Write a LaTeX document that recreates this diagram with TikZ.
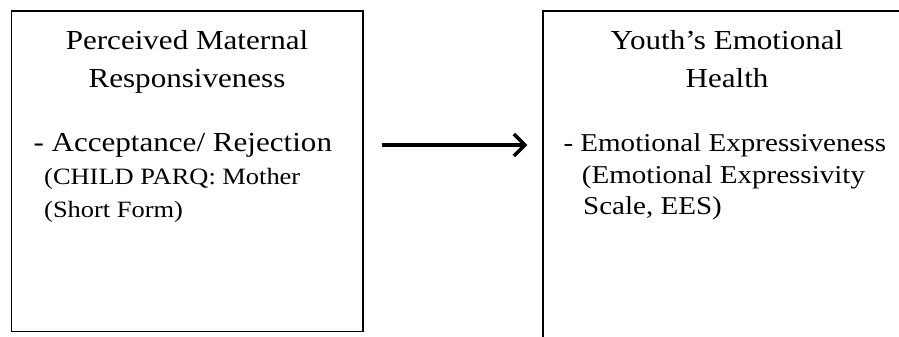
\documentclass[tikz,border=0pt]{standalone}
\usepackage{fontspec}
\setmainfont{Liberation Serif}[FakeStretch=1.13]
\usetikzlibrary{arrows.meta,calc}
\begin{document}
\begin{tikzpicture}[x=1pt,y=-1pt,
  box/.style={draw=black,line width=1.2pt,rectangle,inner sep=0pt},
  head/.style={inner sep=0pt,anchor=base,font=\fontsize{27.5}{33}\selectfont},
  item/.style={inner sep=0pt,anchor=base west,font=\fontsize{27.5}{33}\selectfont},
  note/.style={inner sep=0pt,anchor=base west,font=\fontsize{23.4}{28}\selectfont},
  ritem/.style={inner sep=0pt,anchor=base west,font=\fontsize{25.7}{31}\selectfont},
  link/.style={line width=3.6pt,-{Straight Barb[length=11pt,width=22pt,line width=3.6pt]}}]
\useasboundingbox (0,0) rectangle (899,337);
\clip (0,0) rectangle (899,337);

% left box: perceived maternal responsiveness
\node[box,minimum width=351.5pt,minimum height=320.5pt] (lbox) at (187.25,171.25) {};
\node[head] (lt1) at (187,49.5) {Perceived Maternal};
\node[head] (lt2) at (187,88) {Responsiveness};
\node[item] (li1) at (33.3,151.5) {- Acceptance/ Rejection};
\node[note] (li2) at (44,184) {(CHILD PARQ: Mother};
\node[note] (li3) at (44,217) {(Short Form)};

% right box: youth's emotional health (runs past the page edge)
\node[box,minimum width=368pt,minimum height=360pt] (rbox) at (727,191) {};
\node[head] (rt1) at (727,50) {Youth’s Emotional};
\node[head] (rt2) at (727,88) {Health};
\node[ritem] (ri1) at (563.3,151) {- Emotional Expressiveness};
\node[ritem] (ri2) at (581.7,183) {(Emotional Expressivity};
\node[ritem] (ri3) at (583,214) {Scale, EES)};

% arrow between the two boxes
\coordinate (from) at ($(lbox.east |- 0,145)+(18,0)$);
\coordinate (to) at ($(rbox.west |- 0,145)+(-15,0)$);
\draw[link] (from) -- (to);
\end{tikzpicture}
\end{document}
